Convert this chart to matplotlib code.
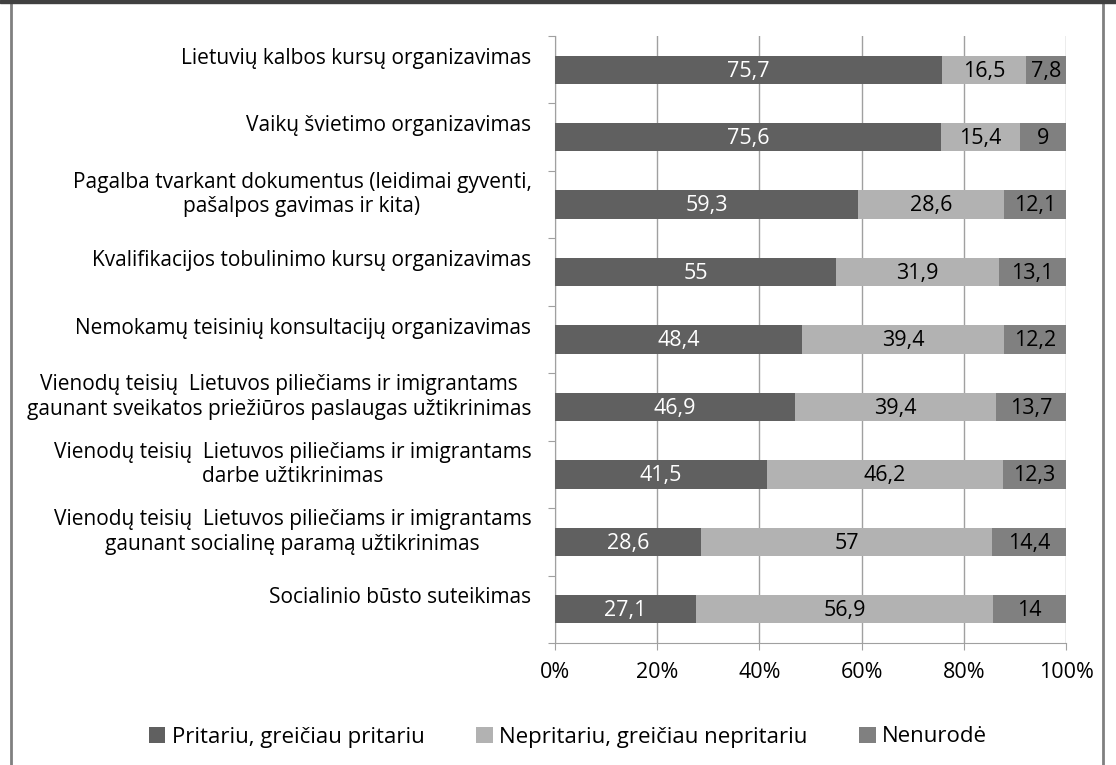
import matplotlib
matplotlib.use('Agg')
from matplotlib import pyplot as plt
from matplotlib.transforms import ScaledTranslation
from matplotlib.patches import Rectangle
import numpy as np

categories = [
    'Lietuvių kalbos kursų organizavimas',
    'Vaikų švietimo organizavimas',
    'Pagalba tvarkant dokumentus (leidimai gyventi,\npašalpos gavimas ir kita)',
    'Kvalifikacijos tobulinimo kursų organizavimas',
    'Nemokamų teisinių konsultacijų organizavimas',
    'Vienodų teisių  Lietuvos piliečiams ir imigrantams\ngaunant sveikatos priežiūros paslaugas užtikrinimas',
    'Vienodų teisių  Lietuvos piliečiams ir imigrantams\ndarbe užtikrinimas',
    'Vienodų teisių  Lietuvos piliečiams ir imigrantams\ngaunant socialinę paramą užtikrinimas',
    'Socialinio būsto suteikimas',
]
pritariu = [75.7, 75.6, 59.3, 55, 48.4, 46.9, 41.5, 28.6, 27.1]
nepritariu = [16.5, 15.4, 28.6, 31.9, 39.4, 39.4, 46.2, 57, 56.9]
nenurode = [7.8, 9, 12.1, 13.1, 12.2, 13.7, 12.3, 14.4, 14]
series_names = ['Pritariu, greičiau pritariu', 'Nepritariu, greičiau nepritariu', 'Nenurodė']
colors = ['#606060', '#b2b2b2', '#808080']
text_colors = ['white', 'black', 'black']

plt.rcParams['font.family'] = ['Open Sans', 'DejaVu Sans']

fig = plt.figure(figsize=(11.16, 7.65), dpi=100)
ax = fig.add_axes([555 / 1116, 1 - 643 / 765, 511 / 1116, 607 / 765])

# frame around the chart like the original screenshot
fig.patches.append(Rectangle((11 / 1116, -0.01), 1092 / 1116, 1.0 - 2 / 765 + 0.01,
                             transform=fig.transFigure, fill=False,
                             edgecolor='#808080', linewidth=2))
fig.patches.append(Rectangle((0, 1 - 3 / 765), 1, 3 / 765, transform=fig.transFigure,
                             color='#404040'))

n = len(categories)
y = np.arange(n)
data = np.array([pritariu, nepritariu, nenurode], dtype=float)
totals = data.sum(axis=0)  # 100% stacked, like Excel
left = np.zeros(n)
for vals, name, col, tcol in zip(data, series_names, colors, text_colors):
    share = vals / totals
    ax.barh(y, share, left=left, height=0.42, color=col, label=name, zorder=3)
    for yi, l, s, v in zip(y, left, share, vals):
        txt = f'{v:g}'.replace('.', ',')
        ax.text(l + s / 2, yi + 0.02, txt, ha='center', va='center',
                color=tcol, fontsize=15.5, zorder=4)
    left += share

ax.set_xlim(0, 1)
ax.set_ylim(n - 0.5, -0.5)
ax.set_xticks(np.linspace(0, 1, 6))
ax.set_xticklabels([f'{int(t)}%' for t in np.linspace(0, 100, 6)], fontsize=15.5)
ax.xaxis.grid(True, color='#a0a0a0', linewidth=1, zorder=0)
ax.tick_params(axis='x', length=5, color='#a0a0a0', pad=9)

ax.set_yticks(np.arange(n + 1) - 0.5)
ax.set_yticklabels([])
ax.tick_params(axis='y', which='major', length=5, color='#a0a0a0')
ax.set_yticks(y, minor=True)
ax.set_yticklabels(categories, minor=True, fontsize=15, ha='right',
                   multialignment='center', linespacing=1.2)
ax.tick_params(axis='y', which='minor', length=0, pad=17)
offset = ScaledTranslation(0, 14 / 100, fig.dpi_scale_trans)
for lab in ax.get_yticklabels(minor=True):
    lab.set_transform(lab.get_transform() + offset)

for side in ['top', 'right']:
    ax.spines[side].set_visible(False)
ax.spines['left'].set_color('#a0a0a0')
ax.spines['bottom'].set_color('#a0a0a0')

fig.legend(loc='center', bbox_to_anchor=(568 / 1116, 1 - 737 / 765), ncol=3, frameon=False,
           fontsize=16, handlelength=0.75, handleheight=0.75, handletextpad=0.3,
           columnspacing=2.3)

fig.savefig('out.png', dpi=100)
